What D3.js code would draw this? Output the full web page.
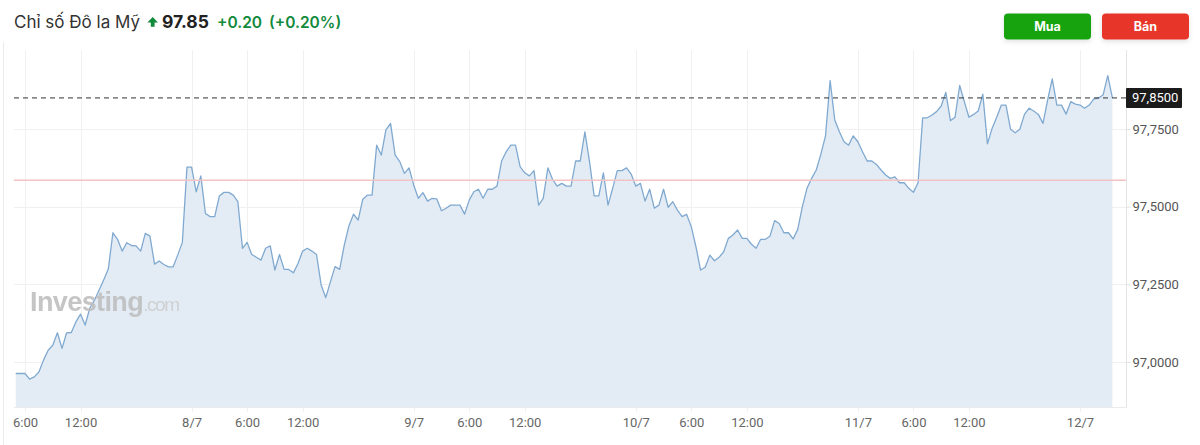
<!DOCTYPE html>
<html><head><meta charset="utf-8">
<script src="https://cdn.jsdelivr.net/npm/d3@7/dist/d3.min.js"></script>
<style>
html,body{margin:0;padding:0;background:#fff;}
svg{display:block;}
</style></head><body>
<svg id="c" width="1200" height="445"></svg>
<script>
// ---------- data ----------
const startTime = new Date(2025, 6, 7, 5, 0);
const stepMinutes = 30;
const prices = [
96.963, 96.963, 96.963, 96.945, 96.952, 96.968, 97.006, 97.038, 97.054, 97.094,
97.044, 97.094, 97.095, 97.129, 97.154, 97.119, 97.173, 97.199, 97.231, 97.264,
97.299, 97.416, 97.395, 97.357, 97.384, 97.375, 97.374, 97.357, 97.414, 97.405,
97.315, 97.325, 97.314, 97.306, 97.306, 97.344, 97.385, 97.627, 97.627, 97.548,
97.599, 97.478, 97.468, 97.468, 97.534, 97.546, 97.546, 97.537, 97.516, 97.366,
97.385, 97.346, 97.337, 97.328, 97.366, 97.374, 97.296, 97.346, 97.298, 97.298,
97.287, 97.317, 97.357, 97.366, 97.357, 97.346, 97.248, 97.207, 97.258, 97.307,
97.298, 97.376, 97.438, 97.476, 97.457, 97.524, 97.537, 97.537, 97.698, 97.666,
97.747, 97.768, 97.666, 97.645, 97.607, 97.625, 97.570, 97.527, 97.545, 97.518,
97.527, 97.525, 97.487, 97.495, 97.505, 97.505, 97.505, 97.476, 97.521, 97.548,
97.556, 97.527, 97.556, 97.556, 97.566, 97.647, 97.677, 97.698, 97.698, 97.629,
97.609, 97.599, 97.616, 97.505, 97.527, 97.625, 97.588, 97.566, 97.575, 97.566,
97.566, 97.647, 97.647, 97.741, 97.645, 97.535, 97.535, 97.609, 97.505, 97.559,
97.616, 97.616, 97.625, 97.605, 97.566, 97.575, 97.518, 97.556, 97.495, 97.505,
97.556, 97.498, 97.516, 97.489, 97.468, 97.475, 97.435, 97.371, 97.296, 97.305,
97.344, 97.326, 97.337, 97.355, 97.398, 97.409, 97.425, 97.398, 97.398, 97.379,
97.366, 97.395, 97.395, 97.405, 97.455, 97.446, 97.416, 97.416, 97.396, 97.427,
97.500, 97.559, 97.591, 97.618, 97.669, 97.728, 97.906, 97.779, 97.741, 97.709,
97.698, 97.728, 97.709, 97.677, 97.647, 97.647, 97.636, 97.618, 97.602, 97.591,
97.596, 97.577, 97.577, 97.559, 97.546, 97.577, 97.786, 97.786, 97.795, 97.806,
97.824, 97.868, 97.777, 97.788, 97.890, 97.838, 97.788, 97.797, 97.808, 97.862,
97.702, 97.752, 97.788, 97.827, 97.827, 97.749, 97.738, 97.749, 97.797, 97.817,
97.808, 97.797, 97.768, 97.843, 97.911, 97.827, 97.827, 97.798, 97.838, 97.830,
97.827, 97.817, 97.827, 97.847, 97.849, 97.860, 97.922, 97.850
];
const lastPrice = 97.85;
const referencePrice = 97.585;
const yTickValues = [97.0, 97.25, 97.5, 97.75];
const xTickTimes = [
  new Date(2025,6,7,6), new Date(2025,6,7,12), new Date(2025,6,8,0),
  new Date(2025,6,8,6), new Date(2025,6,8,12), new Date(2025,6,9,0),
  new Date(2025,6,9,6), new Date(2025,6,9,12), new Date(2025,6,10,0),
  new Date(2025,6,10,6), new Date(2025,6,10,12), new Date(2025,6,11,0),
  new Date(2025,6,11,6), new Date(2025,6,11,12), new Date(2025,6,12,0)
];
const xTickLabels = ["6:00","12:00","8/7","6:00","12:00","9/7","6:00","12:00","10/7","6:00","12:00","11/7","6:00","12:00","12/7"];
const titleText = "Chỉ số Đô la Mỹ";
const priceText = "97.85";
const changeText = "+0.20";
const changePctText = "(+0.20%)";

// ---------- layout ----------
const L = 14, R = 1126, T = 50, B = 407;
const svg = d3.select("#c");
const data = prices.map((v, i) => ({ t: new Date(startTime.getTime() + i * stepMinutes * 60000), v }));

const x = d3.scaleTime()
  .domain([new Date(2025,6,7,6), new Date(2025,6,12,0)])
  .range([25, 1080]);
const y = d3.scaleLinear().domain([97.0, 97.75]).range([362, 129]);

const defs = svg.append("defs");
const f = defs.append("filter").attr("id","sh").attr("x","-20%").attr("y","-30%").attr("width","140%").attr("height","180%");
f.append("feDropShadow").attr("dx",0).attr("dy",2).attr("stdDeviation",2.5).attr("flood-color","#000").attr("flood-opacity",0.12);
defs.append("clipPath").attr("id","plot").append("rect").attr("x",L).attr("y",T).attr("width",R-L).attr("height",B-T);

// left faint border
svg.append("line").attr("x1",3.5).attr("x2",3.5).attr("y1",42).attr("y2",445).attr("stroke","#ececec");

// title
const title = svg.append("g").attr("font-family","Inter, 'Noto Sans', sans-serif");
title.append("text").attr("x",14).attr("y",27.5).attr("font-size",17).attr("fill","#333").text(titleText);
title.append("path").attr("d","M152.7,17 L158,22.5 L154.6,22.5 L154.6,26.8 L150.8,26.8 L150.8,22.5 L147.4,22.5 Z").attr("fill","#128a3c");
title.append("text").attr("x",162).attr("y",27.5).attr("font-size",17.5).attr("font-weight",700).attr("fill","#222").text(priceText);
title.append("text").attr("x",217).attr("y",27.5).attr("font-size",15.5).attr("font-weight",600).attr("fill","#128a3c").text(changeText);
title.append("text").attr("x",269).attr("y",27.5).attr("font-size",15.5).attr("font-weight",600).attr("fill","#128a3c").text(changePctText);

// buttons
const btns = [{label:"Mua", x:1004, w:87, c:"#12a310"}, {label:"Bán", x:1102, w:87, c:"#e8342a"}];
const bg = svg.append("g").selectAll("g").data(btns).join("g");
bg.append("rect").attr("x",d=>d.x).attr("y",13.5).attr("width",d=>d.w).attr("height",26).attr("rx",4).attr("fill",d=>d.c).attr("filter","url(#sh)");
bg.append("text").attr("x",d=>d.x+d.w/2).attr("y",31).attr("text-anchor","middle").attr("fill","#fff")
  .attr("font-family","Inter, Roboto, sans-serif").attr("font-weight",700).attr("font-size",12.5).text(d=>d.label);

// grid
const grid = svg.append("g").attr("stroke","#f0f0f0").attr("stroke-width",1);
grid.selectAll("line.h").data(yTickValues).join("line").attr("class","h")
  .attr("x1",L).attr("x2",R).attr("y1",d=>Math.round(y(d))+0.5).attr("y2",d=>Math.round(y(d))+0.5);
grid.selectAll("line.v").data(xTickTimes).join("line").attr("class","v")
  .attr("x1",d=>Math.round(x(d))+0.5).attr("x2",d=>Math.round(x(d))+0.5).attr("y1",T).attr("y2",B+5);

// area + line
const area = d3.area().x(d=>x(d.t)).y0(B).y1(d=>y(d.v));
const line = d3.line().x(d=>x(d.t)).y(d=>y(d.v));
const pg = svg.append("g").attr("clip-path","url(#plot)");
pg.append("path").datum(data).attr("d",area).attr("fill","#e3ecf5");

// watermark (single text element)
const wmText = svg.append("text").attr("x",30).attr("y",311).attr("opacity",0.9)
  .attr("font-family","'Liberation Sans', Arial, sans-serif");
wmText.append("tspan").attr("font-weight",700).attr("font-size",27).attr("letter-spacing",-0.6).attr("fill","#bfbfbf").text("Investing");
wmText.append("tspan").attr("font-weight",400).attr("font-size",19).attr("letter-spacing",-1.4).attr("fill","#cdcdcd").text(".com");

pg.append("path").datum(data).attr("d",line).attr("fill","none").attr("stroke","#80a9d0").attr("stroke-width",1.3).attr("stroke-linejoin","round");

// reference line & last price line
svg.append("line").attr("x1",L).attr("x2",R).attr("y1",y(referencePrice)).attr("y2",y(referencePrice)).attr("stroke","#f3c3c3").attr("stroke-width",1.5);
svg.append("line").attr("x1",L).attr("x2",R).attr("y1",y(lastPrice)).attr("y2",y(lastPrice)).attr("stroke","#333").attr("stroke-width",1).attr("stroke-dasharray","5,4");

// borders
svg.append("line").attr("x1",R+0.5).attr("x2",R+0.5).attr("y1",T).attr("y2",B+0.5).attr("stroke","#e4e4e4");
svg.append("line").attr("x1",L).attr("x2",R+0.5).attr("y1",B+0.5).attr("y2",B+0.5).attr("stroke","#ebebeb");

// y axis
const ya = svg.append("g").attr("transform",`translate(${R+0.5},0)`)
  .call(d3.axisRight(y).tickValues(yTickValues).tickSize(4).tickPadding(2).tickFormat(d=>d.toFixed(4).replace(".",",")));
ya.select(".domain").remove();
ya.selectAll(".tick line").attr("stroke","#e0e0e0");
ya.selectAll("text").attr("fill","#555").attr("font-size",13).attr("font-family","Roboto, sans-serif");

// x axis
const xa = svg.append("g").attr("transform",`translate(0,${B+5})`)
  .call(d3.axisBottom(x).tickValues(xTickTimes).tickSize(0).tickPadding(0).tickFormat((d,i)=>xTickLabels[i]));
xa.select(".domain").remove();
xa.selectAll("text").attr("fill","#666").attr("font-size",13).attr("font-family","Roboto, sans-serif").attr("dy",null).attr("y",15);

// last price label
const lp = svg.append("g");
lp.append("rect").attr("x",R).attr("y",y(lastPrice)-10).attr("width",56).attr("height",20).attr("fill","#1b1b1b").attr("rx",1);
lp.append("text").attr("x",R+6).attr("y",y(lastPrice)+4.5).attr("fill","#fff").attr("font-size",13).attr("font-family","Roboto, sans-serif").text(lastPrice.toFixed(4).replace(".",","));
</script>
</body></html>
